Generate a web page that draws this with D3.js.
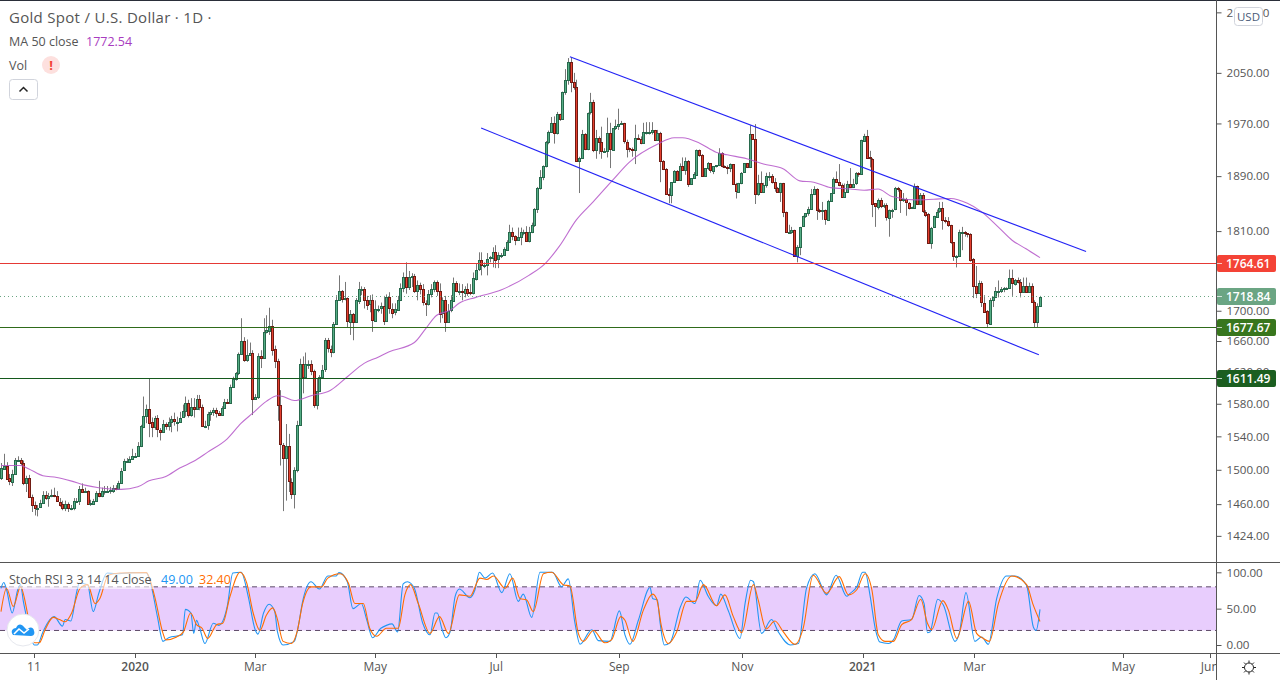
<!DOCTYPE html>
<html>
<head>
<meta charset="utf-8">
<title>Gold Spot / U.S. Dollar</title>
<script src="https://cdn.jsdelivr.net/npm/d3@7"></script>
<style>
  html, body { margin: 0; padding: 0; background: #fff; }
  svg { display: block; }
  text { font-family: "Open Sans", sans-serif; fill: #555; }
  .axis text { font-size: 11.6px; fill: #555; }
  .axis line { stroke: #555; }
  .axis path { display: none; }
</style>
</head>
<body>
<div id="chart"></div>
<script>
// gold daily bars. open of a bar = close of the bar before
const firstOpen = 1490;
const closes = [
  1502,1505,1490,1486,1495,1512,1512,1508,1484,1490,
  1468,1459,1456,1456,1461,1470,1467,1469,1470,1469,
  1463,1460,1455,1460,1455,1456,1464,1464,1478,1475,
  1475,1460,1461,1464,1473,1469,1475,1475,1475,1476,
  1479,1478,1485,1499,1510,1510,1513,1516,1516,1528,
  1552,1565,1574,1557,1551,1562,1548,1545,1555,1552,
  1557,1561,1558,1558,1563,1571,1581,1566,1576,1574,
  1586,1576,1552,1553,1567,1570,1572,1568,1566,1575,
  1582,1581,1601,1611,1619,1643,1660,1635,1642,1645,
  1586,1589,1641,1638,1672,1674,1680,1649,1634,1578,
  1530,1514,1528,1486,1472,1500,1554,1630,1613,1630,
  1630,1621,1578,1596,1614,1623,1661,1650,1646,1683,
  1715,1727,1716,1717,1686,1696,1685,1714,1730,1730,
  1715,1708,1714,1687,1703,1703,1706,1686,1718,1703,
  1698,1702,1715,1731,1746,1732,1746,1747,1727,1735,
  1729,1711,1710,1723,1730,1739,1727,1696,1714,1685,
  1700,1714,1738,1727,1727,1725,1730,1725,1724,1744,
  1756,1769,1762,1762,1771,1773,1781,1770,1776,1776,
  1784,1795,1809,1803,1798,1802,1809,1809,1796,1809,
  1819,1842,1872,1888,1905,1942,1957,1971,1956,1985,
  1977,2019,2038,2067,2035,2027,1912,1917,1954,1931,
  1987,2003,1928,1947,1941,1928,1928,1955,1930,1963,
  1966,1969,1970,1942,1932,1931,1929,1947,1946,1940,
  1957,1957,1957,1960,1945,1955,1912,1900,1863,1862,
  1881,1898,1884,1905,1899,1913,1878,1887,1893,1930,
  1922,1890,1902,1909,1898,1905,1906,1924,1905,1904,
  1902,1908,1878,1867,1880,1895,1909,1903,1953,1946,
  1864,1880,1866,1877,1890,1890,1881,1872,1866,1880,
  1837,1809,1809,1812,1775,1787,1816,1831,1836,1842,
  1864,1871,1840,1839,1840,1827,1854,1865,1886,1881,
  1877,1860,1867,1879,1875,1879,1894,1893,1944,1951,
  1918,1916,1850,1845,1855,1846,1847,1829,1840,1841,
  1872,1870,1856,1856,1851,1844,1844,1876,1849,1862,
  1838,1834,1793,1815,1831,1838,1843,1826,1824,1818,
  1794,1775,1775,1809,1809,1807,1806,1770,1733,1724,
  1737,1711,1699,1683,1715,1719,1727,1727,1730,1731,
  1731,1744,1737,1742,1739,1726,1734,1726,1734,1712,
  1685,1707,1718.84
];
const highs = [
  1508,1519,1509,1495,1500,1514,1516,1514,1511,1493,
  1494,1471,1463,1459,1465,1475,1475,1473,1477,1479,
  1475,1467,1464,1464,1462,1459,1467,1467,1481,1484,
  1479,1476,1465,1466,1475,1487,1479,1481,1481,1480,
  1482,1482,1487,1502,1513,1514,1516,1525,1520,1533,
  1554,1589,1579,1612,1563,1565,1566,1550,1560,1557,
  1563,1565,1569,1564,1570,1579,1589,1585,1587,1587,
  1591,1591,1579,1559,1570,1572,1575,1575,1571,1577,
  1586,1586,1604,1614,1620,1645,1690,1665,1662,1658,
  1648,1592,1644,1648,1690,1694,1704,1688,1654,1637,
  1597,1532,1555,1543,1490,1503,1559,1637,1640,1645,
  1635,1635,1623,1612,1616,1629,1664,1664,1654,1685,
  1721,1748,1728,1739,1718,1701,1697,1717,1739,1733,
  1732,1720,1721,1722,1714,1707,1711,1720,1722,1725,
  1710,1710,1720,1737,1752,1766,1754,1751,1750,1741,
  1738,1736,1714,1728,1736,1741,1741,1737,1718,1720,
  1709,1721,1745,1740,1737,1736,1733,1737,1736,1752,
  1764,1780,1780,1766,1779,1775,1787,1790,1780,1779,
  1787,1797,1819,1815,1804,1815,1815,1812,1817,1816,
  1822,1843,1874,1899,1906,1943,1959,1980,1981,1988,
  1984,2020,2056,2074,2075,2050,2039,1919,1960,1955,
  1987,2018,2007,1960,1950,1965,1932,1979,1971,1963,
  1976,1993,1974,1971,1945,1933,1933,1968,1953,1950,
  1971,1972,1972,1972,1960,1960,1957,1914,1902,1872,
  1881,1899,1899,1909,1918,1918,1914,1887,1896,1930,
  1930,1923,1902,1911,1909,1905,1906,1932,1926,1906,
  1906,1909,1908,1880,1880,1896,1909,1909,1967,1953,
  1969,1892,1897,1880,1895,1896,1893,1887,1874,1880,
  1880,1838,1819,1816,1812,1790,1816,1832,1836,1845,
  1871,1875,1872,1842,1852,1841,1855,1865,1888,1897,
  1908,1879,1879,1883,1902,1886,1896,1896,1945,1954,
  1960,1928,1917,1850,1857,1858,1850,1850,1841,1842,
  1874,1874,1871,1865,1858,1852,1845,1879,1876,1865,
  1865,1840,1836,1816,1832,1841,1852,1852,1830,1830,
  1819,1794,1776,1812,1816,1810,1807,1807,1772,1761,
  1741,1740,1721,1701,1717,1718,1732,1741,1732,1732,
  1732,1756,1756,1743,1745,1743,1745,1745,1738,1737,
  1714,1710,1720
];
const lows = [
  1488,1500,1490,1482,1481,1495,1510,1505,1482,1474,
  1467,1451,1447,1446,1456,1461,1465,1457,1468,1468,
  1463,1457,1453,1452,1451,1453,1453,1462,1459,1473,
  1473,1459,1458,1459,1463,1468,1468,1471,1473,1472,
  1473,1476,1479,1485,1499,1508,1510,1513,1514,1517,
  1527,1550,1556,1539,1539,1548,1539,1535,1545,1548,
  1547,1545,1553,1546,1559,1564,1564,1563,1564,1563,
  1575,1572,1553,1550,1548,1559,1565,1563,1565,1565,
  1574,1580,1580,1600,1609,1616,1654,1633,1633,1641,
  1566,1585,1586,1625,1638,1670,1668,1641,1625,1559,
  1505,1452,1464,1474,1466,1455,1497,1554,1593,1613,
  1624,1616,1575,1573,1609,1620,1620,1645,1639,1644,
  1682,1714,1711,1714,1678,1668,1661,1684,1709,1721,
  1703,1701,1698,1672,1685,1698,1696,1681,1685,1696,
  1690,1694,1707,1713,1725,1723,1728,1732,1724,1714,
  1722,1707,1693,1707,1718,1725,1720,1684,1690,1672,
  1685,1698,1714,1725,1721,1714,1718,1720,1721,1722,
  1741,1754,1748,1758,1748,1766,1759,1758,1758,1772,
  1775,1783,1794,1797,1790,1797,1790,1804,1796,1794,
  1807,1816,1836,1870,1884,1903,1938,1956,1939,1953,
  1974,1976,2015,2031,2019,2023,1915,1865,1916,1929,
  1929,1984,1926,1916,1923,1916,1927,1918,1902,1929,
  1960,1960,1968,1939,1918,1926,1919,1908,1945,1938,
  1939,1953,1953,1953,1943,1943,1881,1899,1865,1850,
  1850,1880,1883,1883,1899,1892,1874,1877,1887,1892,
  1919,1889,1890,1899,1895,1893,1903,1905,1903,1902,
  1893,1896,1879,1857,1867,1878,1895,1902,1903,1945,
  1849,1861,1867,1865,1873,1883,1879,1867,1867,1852,
  1830,1808,1808,1806,1774,1766,1776,1816,1829,1832,
  1841,1862,1826,1836,1826,1819,1826,1852,1864,1880,
  1875,1858,1858,1871,1873,1873,1877,1889,1902,1942,
  1918,1903,1830,1816,1841,1843,1843,1825,1802,1829,
  1840,1867,1836,1852,1832,1841,1843,1843,1850,1850,
  1836,1830,1792,1785,1815,1830,1836,1812,1821,1816,
  1792,1768,1759,1775,1783,1802,1801,1767,1717,1717,
  1724,1705,1698,1677,1682,1705,1717,1718,1724,1725,
  1731,1731,1720,1734,1737,1718,1724,1725,1725,1711,
  1678,1678,1705
];

// MA 50 close, vertices
const maBars = [0,7,10,15,20,25,30,35,43,49,53,59,64,69,74,81,86,90,95,99,101,105,111,118,124,130,135,139,148,152,156,161,164,170,179,189,195,200,206,212,219,225,235,241,244,250,256,260,267,273,280,286,291,297,304,309,314,319,328,334,340,346,351,357,362,367,372];
const maValues = [1505,1505,1501,1493,1491,1487,1482,1479,1477,1480,1487,1492,1502,1510,1521,1537,1556,1568,1583,1590,1589,1584,1590,1597,1614,1631,1639,1646,1658,1676,1694,1701,1710,1718,1728,1748,1765,1789,1826,1852,1884,1911,1938,1948,1948,1940,1926,1922,1916,1908,1901,1883,1881,1873,1871,1869,1871,1860,1855,1856,1857,1850,1838,1816,1797,1785,1772.54];

// stoch RSI, vertices of the two lines (rows line up between bars and values)
const kBars = [
  0,1,2,4,6,7,8,9,12,13,
  15,17.5,19,22,23,25,27,28,31,33,
  35,38,41,47,52,54,56,58,60,65,
  66,68,69,70,71,73,76,78,81,83,
  86,88.5,91,92,94,96,98,99,101,105,
  106.4,108,111,114,117,120,121,124,126,129,
  131,133,136,138,140,142,144,145.5,148,151,
  153.6,155.4,156.2,157.8,159.3,160.8,162.6,164.1,167.9,169.7,
  171.3,173.3,176,179.3,182.2,185.2,187,190,193,197.5,
  200.7,203.1,205.5,207.3,211.5,213.9,218,221.4,223.4,225.2,
  228.2,232.4,233.3,235,236,237.5,239.5,243.3,245.2,248.5,
  250.3,253.2,256.2,257.7,260.4,264.6,266.4,268.4,269.4,272.3,
  275.9,278.3,282.7,285.5,288.4,291.4,295.6,299,302.8,304,
  306.4,308.5,309.4,311.2,313,314.7,317.7,319.5,322.5,326,
  328.7,330.5,331.7,332.6,335.4,337.4,341.6,343.1,345.5,348.7,
  351.1,353.5,356.5,360,363,367.2,369.6,370.6,372
];
const kValues = [
  78,86,76,44,76,83,60,41,0,0,
  18,35,39,26,35,33,71,85,83,46,
  71,99,98,99.5,99.5,78,39,5,10,14,
  49,44,16,34,25,2,30,27,53,99,
  100,67,21,15,44,56,46,18,0,5,
  25,60,87,77,95,95,99.5,87,50,57,
  34,10,23,27,29,18,84,87,78,30,
  14,44,44,23,10,18,67,77,65,76,
  100,92,99,72,98,60,70,38,100,100,
  80,91,30,1,21,6,5,47,14,1,
  34,79,64,62,30,0,3,53,66,57,
  89,67,54,70,47,9,57,89,87,16,
  35,18,0,2,78,98,69,96,67,71,
  80,100,100,67,23,4,2,7,33,35,
  68,57,17,18,63,55,5,16,72,5,
  11,1,64,95,95,82,25,20,49
];
const dBars = [
  0,2,4.4,7,10,12,13.7,15.8,18.7,20.9,
  23,25.3,28.3,31,33.7,35.4,38.4,42.6,52,55,
  58,59,62.9,65.3,67.9,70,72,74,77.2,79.4,
  82,85.6,88,90.3,92.7,95,97.3,98.7,101,104,
  106,108,111,114.8,117,121.4,124.4,126.7,129.7,132,
  134.5,138,142.2,144.6,146.6,149.4,153.6,157,160.2,164.1,
  167.9,171.5,173.9,176.3,180.5,183.2,185.8,188.2,190.6,194.2,
  197.2,201.3,203.7,206.7,208.5,212.1,216.2,218.6,221.9,223.4,
  226.2,230,233.3,234.7,236.5,238.9,241.9,245.5,248.5,251.5,
  256.2,259.2,262.2,265.2,269.4,271.1,273.9,277.1,280.1,284.3,
  287.2,290.8,295.6,300.1,303.4,306.4,309.4,311.8,314.1,316.5,
  319.5,322.5,326,329.3,331.7,333.2,337.2,339.2,342.2,346.4,
  349.3,351.7,353.9,357.1,361.9,367.2,369.4,372
];
const dValues = [
  46,78,53,80,34,3,3,21,38,35,
  32,44,78,83,57,64,96,99,99.5,67,
  16,7,11,18,44,28,23,9,28,30,
  67,100,85,44,20,41,51,39,5,2,
  18,57,80,80,92,98,85,57,57,23,
  12,23,23,69,83,57,16,39,16,69,
  67,92,90,95,78,92,64,62,46,98,
  100,83,81,16,5,20,3,7,39,34,
  5,48,70,64,25,2,18,60,60,83,
  54,69,39,17,83,62,22,33,18,1,
  23,96,71,94,69,76,98,76,14,5,
  5,28,35,63,30,21,61,48,9,60,
  16,9,5,57,95,83,57,32.4
];

// price and stoch axis
const priceTicks = [2150,2050,1970,1890,1810,1700,1660,1620,1580,1540,1500,1460,1424];
const stochTicks = [100,50,0];
const timeLabels = ['11','2020','Mar','May','Jul','Sep','Nov','2021','Mar','May','Jun'];
const timeBars = [11.8,48,91,134,177.3,221.4,265.4,308.5,348.5,401.8,432.8];
const timeStrong = ['2020','2021'];

// channel lines: start and end as bar / price
const upperBars = [203.7,388.5];
const upperPrices = [2076,1781];
const lowerBars = [171.9,371.6];
const lowerPrices = [1963,1642];

const levelPrices = [1764.61,1677.67,1611.49];
const levelColors = ['#e53935','#2f6b1a','#14591c'];
const levelBoxes = ['#f44336','#38761d','#1b5e20'];
const lastPrice = 1718.84;
const lastColor = '#6ba583';

const width = 1280;
const height = 680;
const axisX = 1216;
const paneBottom = 562;
const stochBottom = 653;

const svg = d3.select('#chart').append('svg')
  .attr('width', width)
  .attr('height', height);

const x = d3.scaleLinear().domain([0, 372]).range([1, 1040]);
const y = d3.scaleLog().domain([1395, 2171]).range([562, 0]);
const yStoch = d3.scaleLinear().domain([0, 100]).range([645, 572.3]);

const bars = closes.map((c, i) => {
  const o = i === 0 ? firstOpen : closes[i - 1];
  return { i, o, c, h: Math.max(highs[i], o, c), l: Math.min(lows[i], o, c) };
});

// stoch band under everything else
svg.append('rect')
  .attr('x', 0)
  .attr('y', yStoch(80))
  .attr('width', axisX)
  .attr('height', yStoch(20) - yStoch(80))
  .attr('fill', '#e8cdfd');

svg.selectAll('.bandLine')
  .data([80, 20])
  .enter()
  .append('line')
    .attr('x1', 0)
    .attr('x2', axisX)
    .attr('y1', d => yStoch(d))
    .attr('y2', d => yStoch(d))
    .attr('stroke', '#5d4a68')
    .attr('stroke-dasharray', '5,4');

const stochLine = d3.line().curve(d3.curveMonotoneX);
const drawStoch = (xs, ys, color) => {
  svg.append('path')
    .attr('d', stochLine(xs.map((b, i) => [x(b), yStoch(ys[i])])))
    .attr('fill', 'none')
    .attr('stroke', color)
    .attr('stroke-width', 1.1);
};
drawStoch(kBars, kValues, '#2196f3');
drawStoch(dBars, dValues, '#ff6d00');

// candles
const wickG = svg.append('g');
wickG.selectAll('line')
  .data(bars)
  .enter()
  .append('line')
    .attr('x1', d => Math.round(x(d.i)) + 0.5)
    .attr('x2', d => Math.round(x(d.i)) + 0.5)
    .attr('y1', d => y(d.h))
    .attr('y2', d => y(d.l))
    .attr('stroke', '#777')
    .attr('stroke-width', 1);

const bodyG = svg.append('g');
bodyG.selectAll('rect')
  .data(bars)
  .enter()
  .append('rect')
    .attr('x', d => Math.round(x(d.i)) - 0.5)
    .attr('width', 2)
    .attr('y', d => Math.round(y(Math.max(d.o, d.c))) + 0.5)
    .attr('height', d => Math.max(1, Math.round(Math.abs(y(d.o) - y(d.c)))))
    .attr('fill', d => d.c >= d.o ? '#55ad85' : '#e5402f')
    .attr('stroke', d => d.c >= d.o ? '#27694c' : '#701b13')
    .attr('stroke-width', 1);

// MA 50
svg.append('path')
  .attr('d', d3.line().curve(d3.curveMonotoneX)(maBars.map((b, i) => [x(b), y(maValues[i])])))
  .attr('fill', 'none')
  .attr('stroke', '#b455c8')
  .attr('stroke-width', 1.1)
  .attr('opacity', 0.85);

// channel
[[upperBars, upperPrices], [lowerBars, lowerPrices]].forEach(([bs, ps]) => {
  svg.append('line')
    .attr('x1', x(bs[0]))
    .attr('y1', y(ps[0]))
    .attr('x2', x(bs[1]))
    .attr('y2', y(ps[1]))
    .attr('stroke', '#2323f5')
    .attr('stroke-width', 1.1);
});

// horizontal levels
levelPrices.forEach((p, i) => {
  svg.append('line')
    .attr('x1', 0)
    .attr('x2', axisX)
    .attr('y1', Math.floor(y(p)) + 0.5)
    .attr('y2', Math.floor(y(p)) + 0.5)
    .attr('stroke', levelColors[i]);
});
svg.append('line')
  .attr('x1', 0)
  .attr('x2', axisX)
  .attr('y1', Math.floor(y(lastPrice)) + 0.5)
  .attr('y2', Math.floor(y(lastPrice)) + 0.5)
  .attr('stroke', lastColor)
  .attr('stroke-dasharray', '1,3');

// frame
svg.append('rect').attr('x', 0).attr('y', 0).attr('width', width).attr('height', 1).attr('fill', '#2a2e39');
svg.append('line').attr('x1', axisX + 0.5).attr('x2', axisX + 0.5).attr('y1', 0).attr('y2', height).attr('stroke', '#555');
svg.append('line').attr('x1', 0).attr('x2', width).attr('y1', paneBottom + 0.5).attr('y2', paneBottom + 0.5).attr('stroke', '#555');
svg.append('line').attr('x1', 0).attr('x2', width).attr('y1', stochBottom + 0.5).attr('y2', stochBottom + 0.5).attr('stroke', '#555');

// axes
svg.append('g')
  .attr('class', 'axis')
  .attr('transform', `translate(${axisX + 0.5},0)`)
  .call(d3.axisRight(y).tickValues(priceTicks).tickSize(5).tickPadding(5).tickFormat(d3.format('.2f')));

svg.append('g')
  .attr('class', 'axis')
  .attr('transform', `translate(${axisX + 0.5},0)`)
  .call(d3.axisRight(yStoch).tickValues(stochTicks).tickSize(5).tickPadding(5).tickFormat(d3.format('.2f')));

timeBars.forEach(b => {
  svg.append('line')
    .attr('x1', Math.round(x(b)) + 0.5)
    .attr('x2', Math.round(x(b)) + 0.5)
    .attr('y1', stochBottom)
    .attr('y2', stochBottom + 5)
    .attr('stroke', '#555');
});

svg.selectAll('.timeLabel')
  .data(timeLabels.slice(0, -1))
  .enter()
  .append('text')
    .attr('x', (d, i) => x(timeBars[i]))
    .attr('y', 671)
    .attr('text-anchor', 'middle')
    .style('font-size', '12px')
    .style('font-weight', d => timeStrong.includes(d) ? 600 : 400)
    .text(d => d);

// last label is cut by the price scale
svg.append('clipPath').attr('id', 'timeClip')
  .append('rect').attr('x', 0).attr('y', 654).attr('width', axisX).attr('height', 26);
svg.append('text')
  .attr('clip-path', 'url(#timeClip)')
  .attr('x', x(timeBars[timeBars.length - 1]))
  .attr('y', 671)
  .attr('text-anchor', 'middle')
  .style('font-size', '12px')
  .text(timeLabels[timeLabels.length - 1]);

// price tags on the scale
const tag = (p, color) => {
  const cy = Math.floor(y(p)) + 0.5;
  svg.append('rect')
    .attr('x', axisX + 1)
    .attr('y', cy - 8.5)
    .attr('width', 59)
    .attr('height', 17)
    .attr('rx', 2)
    .attr('fill', color);
  svg.append('line')
    .attr('x1', axisX + 1)
    .attr('x2', axisX + 6)
    .attr('y1', cy)
    .attr('y2', cy)
    .attr('stroke', '#fff')
    .attr('opacity', 0.7);
  svg.append('text')
    .attr('x', axisX + 10)
    .attr('y', cy + 4.5)
    .style('fill', '#fff')
    .style('font-size', '12px')
    .style('font-weight', 600)
    .text(d3.format('.2f')(p));
};
tag(levelPrices[0], levelBoxes[0]);
tag(lastPrice, lastColor);
tag(levelPrices[1], levelBoxes[1]);
tag(levelPrices[2], levelBoxes[2]);

// USD button
svg.append('rect')
  .attr('x', 1234.5).attr('y', 7.5).attr('width', 28).attr('height', 18).attr('rx', 3)
  .attr('fill', '#fff').attr('stroke', '#d1d4dc');
svg.append('text')
  .attr('x', 1248.5).attr('y', 20.5).attr('text-anchor', 'middle')
  .style('font-size', '11.5px').style('fill', '#4a5a78')
  .text('USD');

// header legend
svg.append('text').attr('x', 9).attr('y', 23).style('font-size', '15px').style('letter-spacing', '0.3px').text('Gold Spot / U.S. Dollar · 1D ·');
svg.append('text').attr('x', 9).attr('y', 46).style('font-size', '12.5px').text('MA 50 close');
svg.append('text').attr('x', 86).attr('y', 46).style('font-size', '12.5px').style('fill', '#a83cc0').text(d3.format('.2f')(maValues[maValues.length - 1]));
svg.append('text').attr('x', 9).attr('y', 70).style('font-size', '12.5px').text('Vol');
svg.append('circle').attr('cx', 51).attr('cy', 65).attr('r', 9).attr('fill', '#fde0de');
svg.append('text').attr('x', 51).attr('y', 70).attr('text-anchor', 'middle').style('font-size', '13px').style('font-weight', 700).style('fill', '#f44336').text('!');

svg.append('rect')
  .attr('x', 9.5).attr('y', 79.5).attr('width', 28).attr('height', 20).attr('rx', 3)
  .attr('fill', '#fff').attr('stroke', '#d1d4dc');
svg.append('path').attr('d', 'M19.5 91.5 L23.5 87.5 L27.5 91.5').attr('fill', 'none').attr('stroke', '#222').attr('stroke-width', 1.5);

// stoch legend
svg.append('rect').attr('x', 7).attr('y', 571).attr('width', 147).attr('height', 18).attr('fill', '#fff').attr('opacity', 0.6);
svg.append('text').attr('x', 9).attr('y', 584).style('font-size', '12.5px').text('Stoch RSI 3 3 14 14 close');
svg.append('text').attr('x', 161).attr('y', 584).style('font-size', '12.5px').style('fill', '#2196f3').text(d3.format('.2f')(kValues[kValues.length - 1]));
svg.append('text').attr('x', 199).attr('y', 584).style('font-size', '12.5px').style('fill', '#ff6d00').text(d3.format('.2f')(dValues[dValues.length - 1]));

// logo badge
svg.append('circle').attr('cx', 23).attr('cy', 630).attr('r', 16).attr('fill', '#fff').attr('stroke', '#e6e8ee');
svg.append('path')
  .attr('d', 'M13 635 C10 631 13 628 16 628 C18 623 22 624 24 627 L27 630 C29 626 34 627 34 631 C35 633 34 636 31 636 Z')
  .attr('fill', '#2196f3');
svg.append('path')
  .attr('d', 'M14 634 L19 629 L24 633 L29 629')
  .attr('fill', 'none').attr('stroke', '#fff').attr('stroke-width', 1.6);

// settings gear
svg.append('circle').attr('cx', 1249).attr('cy', 667.5).attr('r', 4.5).attr('fill', 'none').attr('stroke', '#222');
d3.range(8).forEach(k => {
  const a = k * Math.PI / 4;
  svg.append('line')
    .attr('x1', 1249 + Math.cos(a) * 4.5)
    .attr('y1', 667.5 + Math.sin(a) * 4.5)
    .attr('x2', 1249 + Math.cos(a) * 7)
    .attr('y2', 667.5 + Math.sin(a) * 7)
    .attr('stroke', '#222');
});
</script>
</body>
</html>
